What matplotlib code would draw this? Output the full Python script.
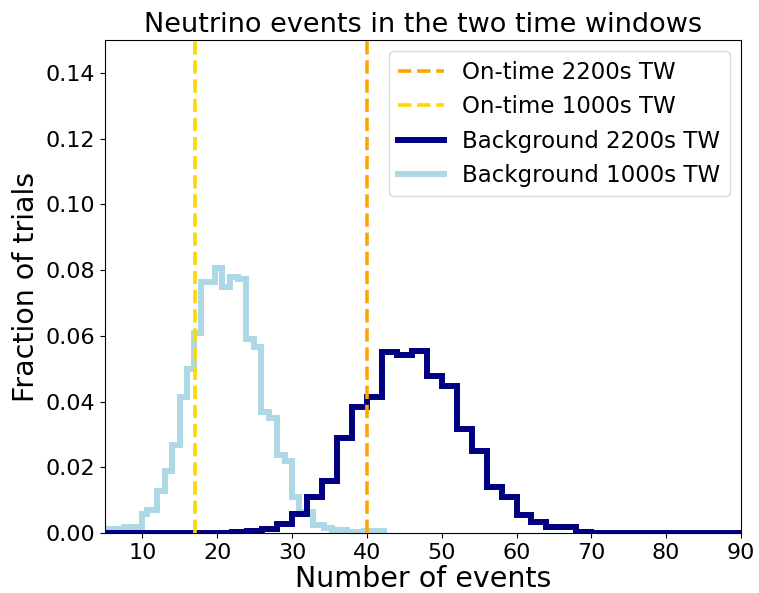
import numpy as np
import matplotlib
matplotlib.use("Agg")
import matplotlib.pyplot as plt

#======histogram data (fraction of trials per bin)=========#
bg1000_edges = [4.0, 7.6, 9.9, 10.6, 11.9, 13.0, 14.0, 15.0, 16.0, 16.9, 17.8, 18.8,
                19.7, 20.7, 21.7, 22.8, 23.9, 24.9, 25.9, 26.9, 28.0, 29.0, 30.0,
                30.9, 32.8, 34.3, 35.4, 37.3, 39.6, 42.3]
bg1000_vals = [0.0011, 0.0017, 0.0057, 0.0069, 0.0127, 0.0190, 0.0269, 0.0414,
               0.0498, 0.0609, 0.0763, 0.0763, 0.0805, 0.0748, 0.0780, 0.0772,
               0.0589, 0.0566, 0.0367, 0.0350, 0.0236, 0.0218, 0.0110, 0.0064,
               0.0024, 0.0014, 0.0009, 0.0004, 0.0006]

bg2200_edges = np.arange(4, 92, 2)
bg2200_vals = [0, 0, 0, 0, 0, 0, 0, 0, 0,
               0.0004, 0.0006, 0.0011, 0.0028, 0.0058, 0.0110, 0.0158, 0.0290,
               0.0382, 0.0414, 0.0551, 0.0541, 0.0555, 0.0477, 0.0448, 0.0317,
               0.0248, 0.0140, 0.0109, 0.0054, 0.0034, 0.0017, 0.0017, 0.0004,
               0, 0, 0, 0, 0, 0, 0, 0, 0, 0]

ontime_2200 = 40
ontime_1000 = 17

#=========plot==============#
fig = plt.figure(figsize=(7.59, 5.93), dpi=100)
ax = fig.add_axes([0.1383, 0.1012, 0.8380, 0.8313])

l1 = ax.axvline(ontime_2200, color='orange', ls='--', lw=2.6, zorder=4, label='On-time 2200s TW')
l2 = ax.axvline(ontime_1000, color='gold', ls='--', lw=2.6, zorder=4, label='On-time 1000s TW')
s2 = ax.stairs(bg2200_vals, bg2200_edges, color='navy', lw=4.3, zorder=3, label='Background 2200s TW')
s1 = ax.stairs(bg1000_vals, bg1000_edges, color='lightblue', lw=4.3, zorder=2, label='Background 1000s TW')

ax.set_xlim(5, 90)
ax.set_ylim(0, 0.15)
ax.set_yticks(np.arange(0, 0.15, 0.02))
ax.tick_params(labelsize=16)
ax.set_xlabel('Number of events', fontsize=20.5, labelpad=2)
ax.set_ylabel('Fraction of trials', fontsize=20.5)
ax.set_title('Neutrino events in the two time windows', fontsize=19.5)
ax.legend(handles=[l1, l2, s2, s1], loc='upper right', fontsize=16.5)

plt.savefig('out.png')
